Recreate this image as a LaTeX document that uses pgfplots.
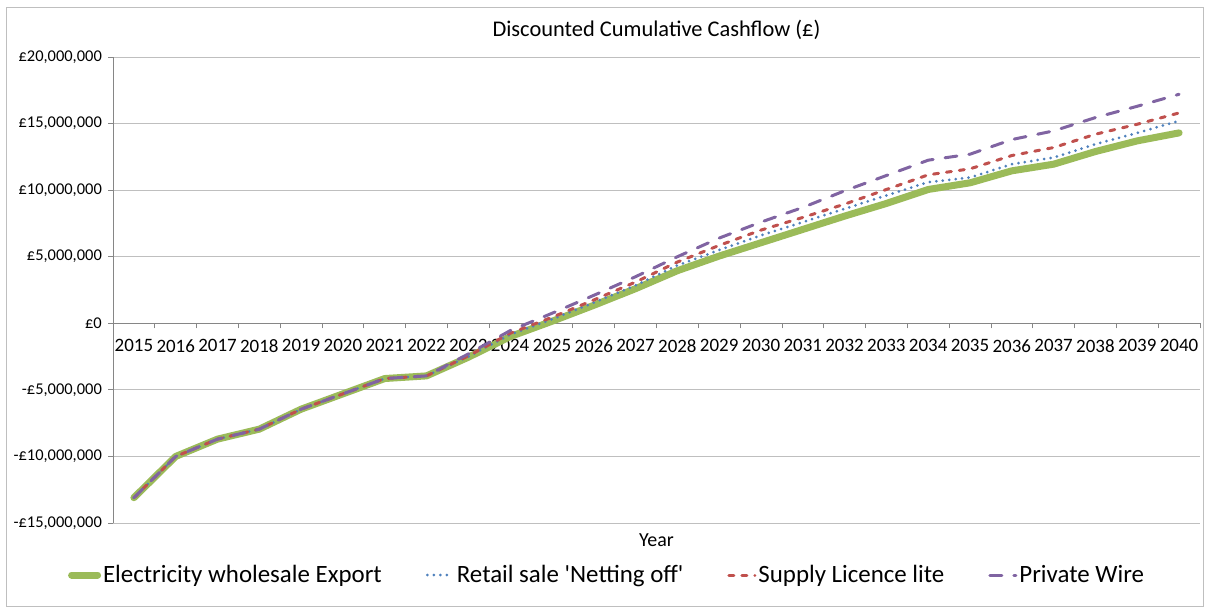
\documentclass[border=0pt]{standalone}
\usepackage{pgfplots}
\pgfplotsset{compat=1.18}
\usepackage{fontspec}
\setmainfont{Carlito}
\definecolor{cgreen}{HTML}{9BBB59}
\definecolor{cblue}{HTML}{4F81BD}
\definecolor{cred}{HTML}{C0504D}
\definecolor{cpurple}{HTML}{8064A2}
\definecolor{axgray}{HTML}{868686}
\definecolor{grgray}{HTML}{BFBFBF}
\begin{document}
\begin{tikzpicture}
\begin{axis}[
  scale only axis, width=1087bp, height=466bp,
  xmin=2014.5, xmax=2040.5, ymin=-15, ymax=20,
  axis x line*=middle, axis y line*=left,
  axis line style={axgray, line width=0.8bp, -},
  xtick={2014.5,2015.5,...,2040.5},
  xticklabels={},
  x tick style={draw=axgray, line width=0.8bp},
  xtick align=outside,
  extra x ticks={2015,...,2040},
  extra x tick labels={2015,2016,2017,2018,2019,2020,2021,2022,2023,2024,2025,2026,2027,2028,2029,2030,2031,2032,2033,2034,2035,2036,2037,2038,2039,2040},
  extra x tick style={grid=none, major tick length=0bp,
    xticklabel style={font=\fontsize{19}{22}\selectfont, inner sep=1bp, yshift=-15bp}},
  ytick={-15,-10,...,20},
  yticklabels={{-£15,000,000},{-£10,000,000},{-£5,000,000},{£0},{£5,000,000},{£10,000,000},{£15,000,000},{£20,000,000}},
  yticklabel style={font=\fontsize{16.5}{20}\selectfont, inner sep=1bp, xshift=-5bp},
  ytick align=outside, ytick pos=left,
  y tick style={draw=axgray, line width=0.8bp},
  major tick length=5bp,
  ymajorgrids, grid style={grgray, line width=0.8bp},
  xlabel={Year},
  xlabel style={at={(axis description cs:0.5,-0.0365)}, anchor=center, font=\fontsize{20}{24}\selectfont},
  title={Discounted Cumulative Cashflow (£)},
  title style={at={(axis description cs:0.5,1.045)}, anchor=center, font=\fontsize{22.5}{26}\selectfont},
  clip=false,
  legend columns=4,
  legend style={at={(axis description cs:0.4545,-0.1116)}, anchor=center, draw=none, fill=none,
    font=\fontsize{25}{30}\selectfont, /tikz/every even column/.append style={column sep=42bp},
    inner sep=0bp, nodes={inner sep=2bp}},
  legend image code/.code={\draw[#1] (0bp,0bp) -- (26bp,0bp);},
]
\addplot[cgreen, line width=7bp, line cap=round, line join=round] coordinates {
(2015,-13.1) (2016,-10.0) (2017,-8.7) (2018,-7.95) (2019,-6.45) (2020,-5.3) (2021,-4.15) (2022,-3.95) (2023,-2.55) (2024,-1.0) (2025,0.15) (2026,1.35) (2027,2.6) (2028,3.95) (2029,5.05) (2030,6.05) (2031,7.05) (2032,8.05) (2033,9.0) (2034,10.05) (2035,10.55) (2036,11.45) (2037,11.95) (2038,12.9) (2039,13.7) (2040,14.3)};
\addlegendentry{Electricity wholesale Export}
\addplot[cblue, line width=3bp, line cap=round, dash pattern=on 0bp off 6.5bp] coordinates {
(2015,-13.1) (2016,-10.0) (2017,-8.7) (2018,-7.95) (2019,-6.45) (2020,-5.3) (2021,-4.15) (2022,-3.95) (2023,-2.5) (2024,-0.85) (2025,0.3) (2026,1.55) (2027,2.85) (2028,4.35) (2029,5.5) (2030,6.6) (2031,7.6) (2032,8.6) (2033,9.6) (2034,10.6) (2035,10.95) (2036,11.95) (2037,12.45) (2038,13.45) (2039,14.3) (2040,15.2)};
\addlegendentry{Retail sale \textquotesingle Netting off\textquotesingle}
\addplot[cred, line width=3bp, line cap=round, dash pattern=on 5bp off 8bp] coordinates {
(2015,-13.1) (2016,-10.0) (2017,-8.7) (2018,-7.95) (2019,-6.45) (2020,-5.3) (2021,-4.15) (2022,-3.95) (2023,-2.45) (2024,-0.75) (2025,0.45) (2026,1.75) (2027,3.1) (2028,4.6) (2029,5.85) (2030,7.0) (2031,7.95) (2032,8.95) (2033,10.05) (2034,11.15) (2035,11.6) (2036,12.6) (2037,13.2) (2038,14.2) (2039,14.95) (2040,15.8)};
\addlegendentry{Supply Licence lite}
\addplot[cpurple, line width=3bp, line cap=round, dash pattern=on 12bp off 12bp] coordinates {
(2015,-13.1) (2016,-10.0) (2017,-8.7) (2018,-7.95) (2019,-6.45) (2020,-5.3) (2021,-4.15) (2022,-3.95) (2023,-2.3) (2024,-0.55) (2025,0.75) (2026,2.1) (2027,3.5) (2028,5.0) (2029,6.4) (2030,7.6) (2031,8.7) (2032,9.95) (2033,11.1) (2034,12.25) (2035,12.7) (2036,13.8) (2037,14.45) (2038,15.45) (2039,16.3) (2040,17.2)};
\addlegendentry{Private Wire}
\draw[grgray, line width=0.8bp] (rel axis cs:-0.0984,-0.180) rectangle (rel axis cs:1.0028,1.1073);
\path (rel axis cs:-0.10396,-0.1867) rectangle (rel axis cs:1.00460,1.1223);
\end{axis}
\end{tikzpicture}
\end{document}
